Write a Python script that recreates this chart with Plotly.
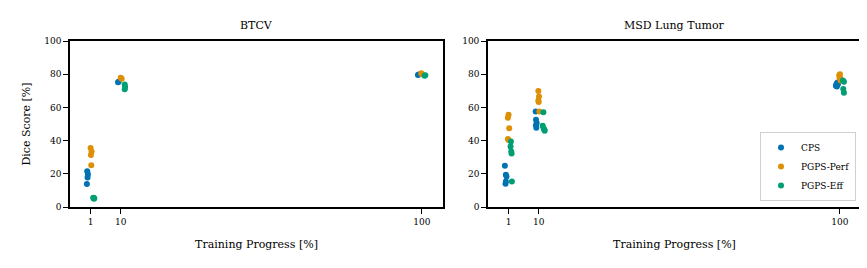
import plotly.graph_objects as go

series_names = ["CPS", "PGPS-Perf", "PGPS-Eff"]
colors = ["#0173b2", "#de8f05", "#029e73"]
x_ticks = [1, 10, 100]
y_ticks = [0, 20, 40, 60, 80, 100]

# BTCV panel: training progress (as plotted, incl. dodge/jitter) and Dice score
btcv_cps_x = [0.0, 0.2, 0.1, -0.1, 9.2, 9.4, 98.8, 99.0]
btcv_cps_y = [21.5, 19.8, 17.8, 13.8, 75.1, 75.4, 79.5, 79.8]
btcv_perf_x = [1.0, 1.3, 1.1, 1.2, 10.0, 10.3, 99.8, 100.0]
btcv_perf_y = [35.5, 33.5, 31.4, 25.1, 77.9, 77.3, 80.5, 80.0]
btcv_eff_x = [1.8, 2.1, 2.0, 1.9, 11.2, 11.3, 11.2, 100.8, 101.0]
btcv_eff_y = [5.6, 5.2, 5.0, 5.4, 73.8, 72.3, 71.0, 79.0, 79.3]

# MSD Lung Tumor panel
msd_cps_x = [-0.1, 0.2, 0.4, 0.2, 0.1, 9.1, 9.2, 9.4, 9.2, 9.3, 99.3, 99.0, 98.8, 99.1, 99.4]
msd_cps_y = [24.8, 19.4, 18.4, 15.4, 14.0, 57.5, 52.5, 50.6, 49.3, 47.8, 75.0, 74.3, 73.1, 72.6, 74.0]
msd_perf_x = [1.0, 0.8, 1.2, 0.8, 1.0, 9.9, 10.1, 9.9, 10.0, 10.2, 100.0, 99.8, 99.9, 100.1, 100.2]
msd_perf_y = [55.5, 53.7, 47.5, 40.9, 40.3, 69.9, 66.5, 64.1, 63.2, 57.5, 79.9, 79.4, 77.8, 77.5, 76.2]
msd_eff_x = [1.7, 1.6, 1.8, 1.9, 2.0, 11.4, 11.2, 11.5, 11.7, 11.8, 100.9, 101.2, 101.0, 101.2]
msd_eff_y = [39.5, 36.5, 33.5, 32.3, 15.4, 57.1, 48.9, 47.3, 46.5, 45.9, 76.2, 75.4, 71.1, 68.9]

panels = [
    ("x", "y", [(btcv_cps_x, btcv_cps_y), (btcv_perf_x, btcv_perf_y), (btcv_eff_x, btcv_eff_y)]),
    ("x2", "y2", [(msd_cps_x, msd_cps_y), (msd_perf_x, msd_perf_y), (msd_eff_x, msd_eff_y)]),
]

FONT = "DejaVu Serif"
fig = go.Figure()
for pi, (xa, ya, data) in enumerate(panels):
    for si, (xs, ys) in enumerate(data):
        fig.add_trace(go.Scatter(
            x=xs, y=ys, mode="markers", xaxis=xa, yaxis=ya,
            name=series_names[si], legendgroup=series_names[si],
            showlegend=(pi == 1),
            marker=dict(color=colors[si], size=6, line=dict(width=0)),
        ))

axis_common = dict(
    showline=True, linecolor="black", linewidth=1.6, mirror=True,
    ticks="outside", ticklen=5, tickwidth=1.2, tickcolor="black",
    showgrid=False, zeroline=False,
    tickfont=dict(family=FONT, size=9, color="black"),
)
xr = [-5.15, 106.3]
title_font = dict(family=FONT, size=11, color="black")
fig.update_layout(
    width=867, height=268,
    margin=dict(l=62, r=14, t=33, b=69),
    plot_bgcolor="white", paper_bgcolor="white",
    font=dict(family=FONT, color="black"),
    xaxis=dict(domain=[0, 0.4716], range=xr, tickvals=x_ticks,
               title=dict(text="Training Progress [%]", font=title_font, standoff=15),
               **axis_common),
    xaxis2=dict(domain=[0.5284, 1], range=xr, tickvals=x_ticks,
                title=dict(text="Training Progress [%]", font=title_font, standoff=15),
                **axis_common),
    yaxis=dict(domain=[0, 1], range=[0, 100], tickvals=y_ticks,
               title=dict(text="Dice Score [%]", font=title_font, standoff=11),
               **axis_common),
    yaxis2=dict(domain=[0, 1], range=[0, 100], tickvals=y_ticks, anchor="x2",
                **axis_common),
    legend=dict(x=0.9937, y=0.036, xanchor="right", yanchor="bottom",
                bgcolor="white", bordercolor="#d0d0d0", borderwidth=1,
                font=dict(family=FONT, size=9), itemwidth=30,
                tracegroupgap=0),
    annotations=[
        dict(text="BTCV", x=0.2358, y=1.04, xref="paper", yref="paper",
             xanchor="center", yanchor="bottom", showarrow=False,
             font=title_font),
        dict(text="MSD Lung Tumor", x=0.7642, y=1.04, xref="paper", yref="paper",
             xanchor="center", yanchor="bottom", showarrow=False,
             font=title_font),
    ],
)
fig.write_html("out.html")
